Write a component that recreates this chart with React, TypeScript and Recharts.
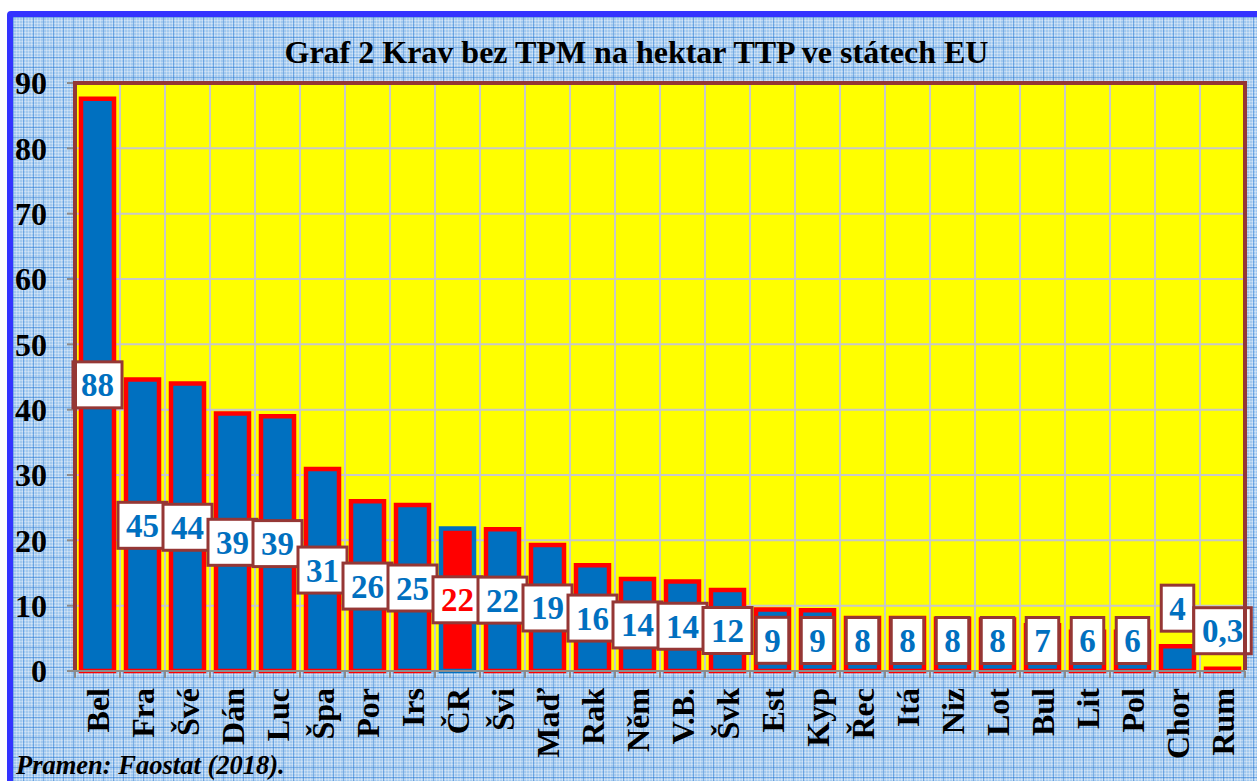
import React from 'react';
import { BarChart, Bar, XAxis, YAxis, CartesianGrid, LabelList, Cell } from 'recharts';

// Krav bez TPM na hektar TTP (Faostat 2018)
const countries = ['Bel', 'Fra', 'Švé', 'Dán', 'Luc', 'Špa', 'Por', 'Irs', 'ČR', 'Švi', 'Maď', 'Rak', 'Něm', 'V.B.', 'Švk', 'Est', 'Kyp', 'Řec', 'Itá', 'Niz', 'Lot', 'Bul', 'Lit', 'Pol', 'Chor', 'Rum'];
const cows = [87.6, 44.6, 44.0, 39.4, 39.0, 30.9, 26.0, 25.4, 21.8, 21.7, 19.3, 16.2, 14.1, 13.7, 12.4, 9.4, 9.3, 8.1, 8.1, 8.0, 7.9, 7.0, 6.0, 6.0, 3.8, 0.35];
const shownLabels = ['88', '45', '44', '39', '39', '31', '26', '25', '22', '22', '19', '16', '14', '14', '12', '9', '9', '8', '8', '8', '8', '7', '6', '6', '4', '0,3'];
const yTicks = [0, 10, 20, 30, 40, 50, 60, 70, 80, 90];
const HIGHLIGHT = 'ČR';

const data = countries.map((name, i) => ({ name, value: cows[i], label: shownLabels[i] }));

const W = 1257;
const H = 781;
const M = { top: 83, right: 12, bottom: 0, left: 15 };
const Y_AXIS_W = 60;
const X_AXIS_H = 110;
const PLOT_LEFT = M.left + Y_AXIS_W;
const PLOT_W = W - PLOT_LEFT - M.right;
const PLOT_H = H - M.top - X_AXIS_H;
const BAND = PLOT_W / countries.length;

const BLUE = '#0070C0';
const RED = '#FF0000';
const BROWN = '#953735';
const SERIF = '"Liberation Serif", "Times New Roman", serif';

const gridX = countries.slice(1).map((_, i) => PLOT_LEFT + (i + 1) * BAND);

const CountryTick = (props: any) => {
  const { x, y, payload, index } = props;
  const left = x - BAND / 2;
  return (
    <g>
      <line x1={left} y1={y - 8} x2={left} y2={y - 1} stroke="#8c8c8c" strokeWidth={2} />
      {index === countries.length - 1 && (
        <line x1={left + BAND} y1={y - 8} x2={left + BAND} y2={y - 1} stroke="#8c8c8c" strokeWidth={2} />
      )}
      <text
        transform={`translate(${x + 11},${y + 9}) rotate(-90)`}
        textAnchor="end"
        fontFamily={SERIF}
        fontWeight="bold"
        fontSize={32}
        fill="#000"
      >
        {payload.value}
      </text>
    </g>
  );
};

const charW = (c: string) => (c === ',' ? 8.5 : 16.5);

const ValueBox = (props: any) => {
  const x = Number(props.x);
  const y = Number(props.y);
  const width = Number(props.width);
  const height = Number(props.height);
  const i = props.index;
  const text = shownLabels[i];
  const v = cows[i];
  const cx = x + width / 2;
  const cy = v < 5 ? y - 38 : Math.min(y + height / 2, 640.5);
  const w = 16 + text.split('').reduce((s, c) => s + charW(c), 0);
  const h = 46;
  return (
    <g>
      <rect x={cx - w / 2} y={cy - h / 2} width={w} height={h} fill="#fff" stroke={BROWN} strokeWidth={3} />
      <text
        x={cx}
        y={cy + 11.5}
        textAnchor="middle"
        fontFamily={SERIF}
        fontWeight="bold"
        fontSize={33}
        fill={countries[i] === HIGHLIGHT ? RED : BLUE}
      >
        {text}
      </text>
    </g>
  );
};

export default function App() {
  return (
    <div style={{ position: 'absolute', left: 0, top: 0, width: W, height: H, overflow: 'hidden', background: '#fff' }}>
      <div
        style={{
          position: 'absolute',
          left: 7,
          top: 11,
          right: -20,
          bottom: -20,
          border: '6px solid #3333ff',
          borderRadius: 4,
          backgroundColor: '#a3c9ee',
          backgroundImage:
            'linear-gradient(to right, rgba(30,115,210,0.45) 1px, transparent 1px), linear-gradient(to bottom, rgba(30,115,210,0.45) 1px, transparent 1px), linear-gradient(to right, rgba(255,255,255,0.3) 1px, transparent 1px), linear-gradient(to bottom, rgba(255,255,255,0.3) 1px, transparent 1px)',
          backgroundSize: '10px 10px, 10px 10px, 3px 3px, 3px 3px',
        }}
      />
      <div style={{ position: 'absolute', left: PLOT_LEFT, top: M.top, width: PLOT_W, height: PLOT_H, background: '#FFFF00' }} />
      <div
        style={{
          position: 'absolute',
          left: 0,
          width: W,
          top: 34,
          textAlign: 'center',
          fontFamily: SERIF,
          fontWeight: 'bold',
          fontSize: 32,
          color: '#000',
          lineHeight: '36px',
          paddingLeft: 16,
          boxSizing: 'border-box',
        }}
      >
        Graf 2 Krav bez TPM na hektar TTP ve státech EU
      </div>
      <div style={{ position: 'absolute', left: 0, top: 0 }}>
        <BarChart width={W} height={H} data={data} margin={M}>
          <CartesianGrid stroke="#c8c8c8" strokeWidth={2} verticalPoints={gridX} />
          <XAxis
            dataKey="name"
            height={X_AXIS_H}
            interval={0}
            tickLine={false}
            tickSize={8}
            tickMargin={0}
            axisLine={{ stroke: '#8c8c8c', strokeWidth: 2 }}
            tick={<CountryTick />}
          />
          <YAxis
            width={Y_AXIS_W}
            domain={[0, 90]}
            ticks={yTicks}
            interval={0}
            axisLine={false}
            tickSize={8}
            tickMargin={20}
            tickLine={{ stroke: '#8c8c8c', strokeWidth: 2 }}
            tick={{ fill: '#000', fontSize: 32, fontWeight: 'bold', fontFamily: SERIF }}
          />
          <Bar dataKey="value" barSize={33} strokeWidth={4.5} isAnimationActive={false}>
            {data.map((d) => (
              <Cell key={d.name} fill={d.name === HIGHLIGHT ? RED : BLUE} stroke={d.name === HIGHLIGHT ? BLUE : RED} />
            ))}
            <LabelList dataKey="label" content={<ValueBox />} />
          </Bar>
        </BarChart>
      </div>
      <div
        style={{
          position: 'absolute',
          left: PLOT_LEFT - 2,
          top: M.top - 2,
          width: PLOT_W + 4,
          height: PLOT_H + 1,
          border: `4px solid ${BROWN}`,
          borderBottom: 'none',
          boxSizing: 'border-box',
          pointerEvents: 'none',
        }}
      />
      <div
        style={{
          position: 'absolute',
          left: 16,
          top: 751,
          fontFamily: SERIF,
          fontWeight: 'bold',
          fontStyle: 'italic',
          fontSize: 26.5,
          lineHeight: '28px',
          color: '#000',
        }}
      >
        Pramen: Faostat (2018).
      </div>
    </div>
  );
}
